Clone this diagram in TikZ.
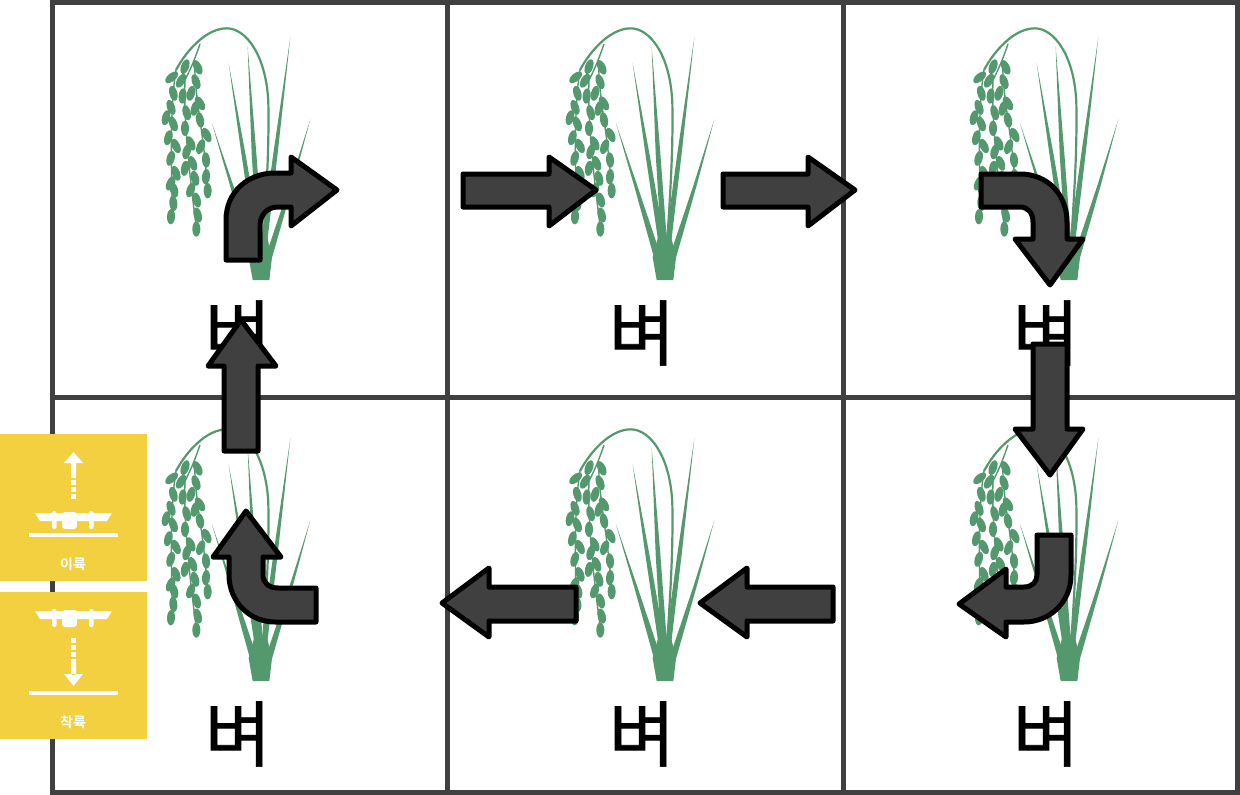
\documentclass[tikz,border=0pt]{standalone}
\usepackage{fontspec}
\newfontfamily\krfont[FakeBold=1]{Noto Sans CJK KR}
\newfontfamily\krbold{Noto Sans CJK KR Bold}
\definecolor{ricegreen}{HTML}{54986E}
\definecolor{gridgray}{HTML}{404040}
\definecolor{padyellow}{HTML}{F2D040}
\tikzset{
    BA/.style ={draw=black,fill=gridgray,line width=5pt,line join=round},
    GR/.style ={draw=gridgray,line width=5pt},
    PA/.style ={fill=padyellow},
    WH/.style ={fill=white},
    NM/.style ={font=\krfont\fontsize{72}{72}\selectfont,text=black,inner sep=0pt},
    LB/.style ={font=\krbold\fontsize{14}{14}\selectfont,text=white,inner sep=0pt},
    rice/.pic={
        \begin{scope}[scale=1/3,shift={(-330,-780)}]
        \fill[ricegreen] (236,130) -- (274,400) -- (315,680) -- (335,680) -- (286,400) -- cycle;
        \fill[ricegreen] (293,80) -- (305,400) -- (322,680) -- (340,680) -- (319,400) -- cycle;
        \fill[ricegreen] (421,52) -- (370,400) -- (332,680) -- (350,680) -- (383,400) -- cycle;
        \fill[ricegreen] (481,298) -- (417,500) -- (350,700) -- (364,720) -- (427,500) -- cycle;
        \fill[ricegreen] (186,310) -- (241,500) -- (302,720) -- (318,700) -- (251,500) -- cycle;
        \fill[ricegreen] (308,780) -- (358,780) -- (366,712) -- (350,645) -- (314,645) -- (296,712) -- cycle;
        \draw[ricegreen,line width=2.2pt] (338,700) .. controls (345,560) and (358,420) .. (355,250) .. controls (350,110) and (290,25) .. (230,25) .. controls (170,25) and (110,90) .. (78,150);
        \draw[ricegreen,line width=1.4pt] (150,72) .. controls (130,130) and (120,150) .. (105,180) .. controls (100,300) and (120,480) .. (140,630);
        \draw[ricegreen,line width=1.4pt] (78,150) .. controls (65,230) and (60,350) .. (68,590);
        \draw[ricegreen,line width=1.4pt] (135,120) .. controls (130,220) and (165,350) .. (172,510);
        \foreach \x/\y/\a in {65/172/-50,70/220/15,63/262/20,48/293/-15,70/312/20,55/353/-15,78/378/25,62/415/-15,78/460/20,62/490/-25,72/510/15,70/550/5,63/590/-3,
            105/140/-20,93/182/-30,98/228/-5,110/278/15,105/325/0,122/370/25,110/395/-15,105/445/-10,128/430/20,135/475/15,122/510/-20,140/540/15,143/585/15,139/627/0,
            143/142/25,138/185/20,123/220/-15,150/250/30,135/265/-15,150/300/10,170/345/25,152/380/-20,168/420/5,168/470/-5,173/512/0}{
            \fill[ricegreen,rotate around={\a:(\x,\y)}] (\x,\y) ellipse [x radius=12,y radius=23];}
        \end{scope}
    },
    drone/.pic={
        \fill[WH] (-38.5,0) -- (38.5,0) -- (33.5,8) -- (-33.5,8) -- cycle;
        \fill[WH,rounded corners=2pt] (-21.5,-2) rectangle (-17,16);
        \fill[WH,rounded corners=2pt] (15.5,-2) rectangle (20,16);
        \fill[WH,rounded corners=3pt] (-11.5,-1) rectangle (3.5,16);
    }}

\begin{document}
\begin{tikzpicture}[x=1pt,y=-1pt]
        \useasboundingbox (0,0) rectangle (1240,795);
        \foreach \x/\px in {260/a,664/b,1068/c}{
            \foreach \y/\py in {280/t,681/u}{
                \pic (rice\px\py) at (\x,\y) {rice};}}
        \node[NM] (wa) at (238,333) {벼};
        \node[NM] (wb) at (642,333) {벼};
        \node[NM] (wc) at (1046,333) {벼};
        \node[NM] (wd) at (238,734) {벼};
        \node[NM] (we) at (642,734) {벼};
        \node[NM] (wf) at (1046,734) {벼};
        \draw[GR] (52.5,2.5) rectangle (1237.5,792.5);
        \draw[GR] (447,2.5) -- (447,792.5);
        \draw[GR] (843,2.5) -- (843,792.5);
        \draw[GR] (52.5,397) -- (1237.5,397);
        \fill[PA] (0,434) rectangle (147,581);
        \fill[PA] (0,592) rectangle (147,739);
        \fill[WH] (73.5,452) -- (83,463) -- (76,463) -- (76,478) -- (71,478) -- (71,463) -- (64,463) -- cycle;
        \foreach \y in {480,487,494}{
            \fill[WH] (71,\y) rectangle (76,\y+5);}
        \pic (droneup) at (73.5,513) {drone};
        \fill[WH] (29,533) rectangle (118,537);
        \node[LB] (takeoff) at (73,564.5) {이륙};
        \pic (dronedn) at (73.5,611) {drone};
        \foreach \y in {638,645,652}{
            \fill[WH] (71,\y) rectangle (76,\y+5);}
        \fill[WH] (71,659) rectangle (76,675) (64,674) -- (83,674) -- (73.5,686) -- cycle;
        \fill[WH] (29,691) rectangle (118,695);
        \node[LB] (landing) at (73,722.5) {착륙};
        \draw[BA] (226,260) -- (226,220) .. controls (226,192) and (248,173) .. (275,173) -- (291,173) -- (291,157) -- (337,190) -- (291,226) -- (291,207) -- (278,207) .. controls (267,207) and (260,215) .. (260,226) -- (260,260) -- cycle;
        \draw[BA] (463,174) -- (549,174) -- (549,157) -- (596,190) -- (549,226) -- (549,207) -- (463,207) -- cycle;
        \draw[BA] (723,174) -- (808,174) -- (808,157) -- (855,190) -- (808,226) -- (808,207) -- (723,207) -- cycle;
        \draw[BA] (981,174) -- (1020,174) .. controls (1048,174) and (1067,195) .. (1067,222) -- (1067,239) -- (1083,239) -- (1050,285) -- (1015,239) -- (1033,239) -- (1033,222) .. controls (1033,213) and (1028,207) .. (1020,207) -- (981,207) -- cycle;
        \draw[BA] (1033,344) -- (1067,344) -- (1067,429) -- (1083,429) -- (1050,475) -- (1015,429) -- (1033,429) -- cycle;
        \draw[BA] (1037,535) -- (1071,535) -- (1071,575) .. controls (1071,602) and (1050,622) .. (1024,622) -- (1006,622) -- (1006,637) -- (959,604) -- (1006,569) -- (1006,587) -- (1024,587) .. controls (1032,587) and (1037,582) .. (1037,575) -- cycle;
        \draw[BA] (833,587) -- (747,587) -- (747,568) -- (700,603) -- (747,637) -- (747,621) -- (833,621) -- cycle;
        \draw[BA] (576,587) -- (489,587) -- (489,568) -- (442,603) -- (489,637) -- (489,621) -- (576,621) -- cycle;
        \draw[BA] (316,622) -- (275,622) .. controls (249,622) and (229,601) .. (229,575) -- (229,557) -- (213,557) -- (246,511) -- (281,557) -- (263,557) -- (263,575) .. controls (263,583) and (269,588) .. (278,588) -- (316,588) -- cycle;
        \draw[BA] (224,451) -- (258,451) -- (258,366) -- (276,366) -- (241,320) -- (208,366) -- (224,366) -- cycle;
    \end{tikzpicture}
\end{document}
